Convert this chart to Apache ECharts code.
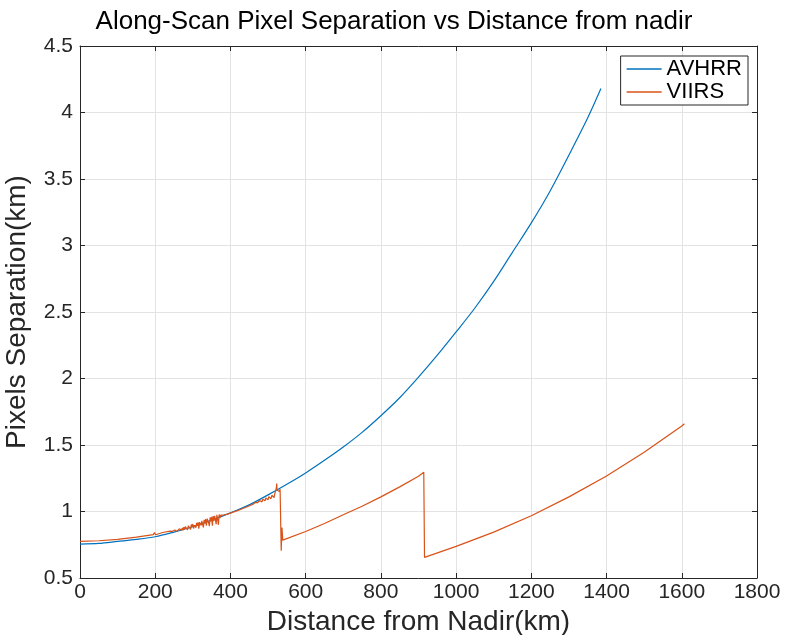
<!DOCTYPE html>
<html>
<head>
<meta charset="utf-8">
<title>Along-Scan Pixel Separation</title>
<script src="https://cdn.jsdelivr.net/npm/echarts@6/dist/echarts.min.js"></script>
<style>
  html, body { margin: 0; padding: 0; background: #fff; }
  #chart { width: 788px; height: 635px; }
</style>
</head>
<body>
<div id="chart"></div>
<script>
// Distance from nadir (km) and along-scan pixel separation (km)
const avhrrDist = [0, 50, 100, 150, 200, 250, 300, 350, 400, 450, 500, 550, 600, 650, 700, 750,
  800, 850, 900, 950, 1000, 1050, 1100, 1150, 1200, 1250, 1300, 1350, 1385];
const avhrrSep = [0.755, 0.76, 0.775, 0.79, 0.81, 0.845, 0.885, 0.935, 0.99, 1.05, 1.125, 1.205,
  1.29, 1.385, 1.485, 1.595, 1.72, 1.855, 2.01, 2.175, 2.35, 2.53, 2.73, 2.95, 3.17, 3.41, 3.68, 3.96, 4.18];

const viirsDist = [
  0, 50, 100, 150, 195, 198, 201, 204, 220,
  240, 242, 244, 246, 248, 250, 252, 254, 256, 258, 260, 262, 264, 266, 268, 270, 272, 274, 276, 278,
  280, 282, 284, 286, 288, 290, 292, 294, 296, 298, 300, 302, 304, 306, 308, 310, 312, 314, 316, 318,
  320, 322, 324, 326, 328, 330, 332, 334, 336, 338, 340, 342, 344, 346, 348, 350, 352, 354, 356, 358,
  360, 362, 364, 366, 368, 370, 372, 374, 376, 378, 380, 386, 392, 400, 420, 440,
  460, 462, 464, 466, 468, 470, 472, 474, 476, 478, 480, 482, 484, 486, 488, 490, 492, 494, 496, 498,
  500, 502, 504, 506, 508, 510, 512, 514, 516, 518, 520, 522, 523, 524, 526, 528, 530, 532, 533,
  535, 537, 539, 543,
  600, 650, 700, 750, 800, 850, 900, 914,
  916, 1000, 1100, 1200, 1300, 1400, 1500, 1600, 1607
];
const viirsSep = [
  0.775, 0.78, 0.79, 0.808, 0.826, 0.842, 0.825, 0.832, 0.842,
  0.852, 0.848, 0.856, 0.851, 0.858, 0.850, 0.861, 0.853, 0.864, 0.852, 0.867, 0.856, 0.870, 0.855, 0.874, 0.860, 0.877, 0.858, 0.882, 0.865,
  0.886, 0.874, 0.889, 0.862, 0.893, 0.880, 0.897, 0.866, 0.903, 0.884, 0.906, 0.872, 0.897, 0.912, 0.878, 0.915, 0.893, 0.918, 0.870, 0.920,
  0.926, 0.895, 0.930, 0.902, 0.880, 0.938, 0.910, 0.942, 0.893, 0.946, 0.952, 0.915, 0.890, 0.956, 0.925, 0.960, 0.893, 0.965, 0.930, 0.968,
  0.970, 0.905, 0.975, 0.940, 0.900, 0.978, 0.950, 0.972, 0.960, 0.976, 0.972, 0.976, 0.980, 0.988, 1.008, 1.030,
  1.055, 1.062, 1.052, 1.068, 1.060, 1.073, 1.066, 1.078, 1.063, 1.083, 1.075, 1.088, 1.072, 1.092, 1.084, 1.097, 1.080, 1.102, 1.092, 1.108,
  1.088, 1.112, 1.100, 1.118, 1.096, 1.122, 1.112, 1.128, 1.105, 1.134, 1.125, 1.175, 1.210, 1.160, 1.145, 1.165, 1.150, 1.168, 1.170,
  0.705, 0.88, 0.785, 0.79,
  0.85, 0.91, 0.975, 1.04, 1.11, 1.185, 1.265, 1.295,
  0.655, 0.7375, 0.845, 0.9675, 1.11, 1.2675, 1.445, 1.6425, 1.66
];

const xTicks = { min: 0, max: 1800, interval: 200 };
const yTicks = { min: 0.5, max: 4.5, interval: 0.5 };

const pair = (xs, ys) => xs.map((x, i) => [x, ys[i]]);

const axisColor = '#262626';
const font = 'Liberation Sans, Arial, Helvetica, sans-serif';

const chart = echarts.init(document.getElementById('chart'), null, { renderer: 'canvas' });

// Unlabelled top/right axes close the box around the plot area
const frameAxis = (pos) => ({
  type: 'value',
  position: pos,
  axisLine: { show: true, onZero: false, lineStyle: { color: axisColor, width: 1 } },
  axisTick: { show: true, inside: true, length: 5, lineStyle: { color: axisColor } },
  axisLabel: { show: false },
  splitLine: { show: false }
});

chart.setOption({
  animation: false,
  backgroundColor: '#fff',
  title: {
    text: 'Along-Scan Pixel Separation vs Distance from nadir',
    left: 'center',
    top: 4,
    textStyle: { fontFamily: font, fontSize: 26, fontWeight: 'normal', color: '#000' }
  },
  legend: {
    orient: 'vertical',
    right: 40,
    top: 56,
    icon: 'rect',
    itemWidth: 35,
    itemHeight: 1.5,
    itemGap: 1,
    padding: [2, 6, 2, 6],
    borderColor: axisColor,
    borderWidth: 1,
    backgroundColor: '#fff',
    textStyle: { fontFamily: font, fontSize: 22, color: '#000' },
    data: ['AVHRR', 'VIIRS']
  },
  grid: { left: 80, right: 31, top: 46, bottom: 57, containLabel: false, outerBoundsMode: 'none' },
  xAxis: [
    {
      type: 'value',
      min: xTicks.min, max: xTicks.max, interval: xTicks.interval,
      name: 'Distance from Nadir(km)',
      nameLocation: 'middle',
      nameGap: 29,
      nameTextStyle: { fontFamily: font, fontSize: 28, color: axisColor },
      axisLine: { show: true, onZero: false, lineStyle: { color: axisColor, width: 1 } },
      axisTick: { show: true, inside: true, length: 5, lineStyle: { color: axisColor } },
      axisLabel: { fontFamily: font, fontSize: 21, color: axisColor, margin: 4, formatter: (v) => String(v) },
      splitLine: { show: true, lineStyle: { color: '#e3e3e3', width: 1 } }
    },
    Object.assign(frameAxis('top'), { min: xTicks.min, max: xTicks.max, interval: xTicks.interval })
  ],
  yAxis: [
    {
      type: 'value',
      min: yTicks.min, max: yTicks.max, interval: yTicks.interval,
      name: 'Pixels Separation(km)',
      nameLocation: 'middle',
      nameGap: 49,
      nameTextStyle: { fontFamily: font, fontSize: 28, color: axisColor },
      axisLine: { show: true, onZero: false, lineStyle: { color: axisColor, width: 1 } },
      axisTick: { show: true, inside: true, length: 5, lineStyle: { color: axisColor } },
      axisLabel: { fontFamily: font, fontSize: 21, color: axisColor, margin: 7, formatter: (v) => String(v) },
      splitLine: { show: true, lineStyle: { color: '#e3e3e3', width: 1 } }
    },
    Object.assign(frameAxis('right'), { min: yTicks.min, max: yTicks.max, interval: yTicks.interval })
  ],
  series: [
    {
      name: 'AVHRR',
      type: 'line',
      data: pair(avhrrDist, avhrrSep),
      smooth: 0.3,
      showSymbol: false,
      color: '#0072BD',
      lineStyle: { color: '#0072BD', width: 1.2 }
    },
    {
      name: 'VIIRS',
      type: 'line',
      data: pair(viirsDist, viirsSep),
      showSymbol: false,
      color: '#D95319',
      lineStyle: { color: '#D95319', width: 1.2 }
    }
  ]
});
</script>
</body>
</html>
